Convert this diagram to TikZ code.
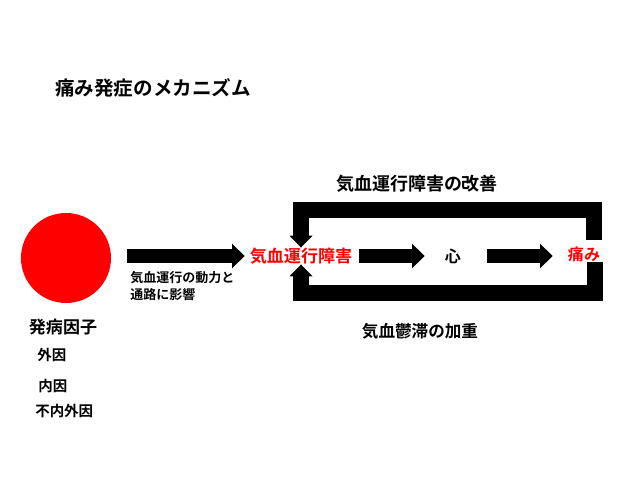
\documentclass[tikz,border=0pt]{standalone}
\usepackage{fontspec}
\setmainfont{Noto Sans CJK JP}[BoldFont={Noto Sans CJK JP Bold}]
\usetikzlibrary{arrows.meta}

\definecolor{palRed}{HTML}{FF0000}

\begin{document}
\begin{tikzpicture}[
    x=0.025cm, y=-0.025cm,
    fat/.style={line width=10pt, -{Triangle[width=17pt,length=9pt]}},
    loopbar/.style={line width=11pt, line join=miter,
        -{Triangle[width=16pt,length=8.5pt]}},
    ttl/.style={font=\bfseries\fontsize{13.9}{16}\selectfont, inner sep=0},
    key/.style={text=palRed, inner sep=0},
    lbl/.style={font=\bfseries\fontsize{10.3}{12}\selectfont, inner sep=0, anchor=west},
]
\useasboundingbox (0,0) rectangle (640,480);

% Title
\node[ttl, anchor=west] (title) at (55,88) {痛み発症のメカニズム};

% Cause (red disc) and its labels
\node[circle, fill=palRed, inner sep=0, minimum size=2.25cm] (factor) at (66,258) {};
\node[inner sep=0, font=\bfseries\fontsize{12.1}{14}\selectfont]
    (factorlbl) at (63,327) {発病因子};
\node[lbl] (outer) at (37,355) {外因};
\node[lbl] (inner) at (38,386) {内因};
\node[lbl] (neither) at (35,411) {不内外因};

% Chain of states
\node[key, font=\bfseries\fontsize{12.1}{14}\selectfont] (hinder) at (301,256) {気血運行障害};
\node[inner sep=0, font=\bfseries\fontsize{11.4}{14}\selectfont] (heart) at (453,256) {心};
\node[key, font=\bfseries\fontsize{11.4}{14}\selectfont] (pain) at (584,254) {痛み};

% Forward arrows
\draw[fat, shorten <=0.4cm, shorten >=0.125cm]
    (factor.east |- hinder.west) -- (hinder.west);
\node[inner sep=0, anchor=north west, align=left,
    font=\bfseries\fontsize{9.25}{12}\selectfont] (path) at (130,271)
    {気血運行の動力と\\通路に影響};
\draw[fat, shorten <=0.175cm, shorten >=0.5cm] (hinder.east) -- (heart.west);
\draw[fat, shorten <=0.65cm, shorten >=0.375cm]
    (heart.east) -- (heart.east -| pain.west);

% Feedback loop above
\coordinate (topR) at (594,210);
\draw[loopbar, shorten <=0.15cm] (pain.north -| topR) -- (topR) -| (hinder.north);
\node[inner sep=0, font=\bfseries\fontsize{12.8}{14}\selectfont]
    (improve) at (417,184) {気血運行障害の改善};

% Feedback loop below
\coordinate (botR) at (595,293);
\draw[loopbar] (pain.south -| botR) -- (botR) -| (hinder.south);
\node[inner sep=0, font=\bfseries\fontsize{11.8}{14}\selectfont]
    (congest) at (420,331) {気血鬱滞の加重};

\end{tikzpicture}
\end{document}
